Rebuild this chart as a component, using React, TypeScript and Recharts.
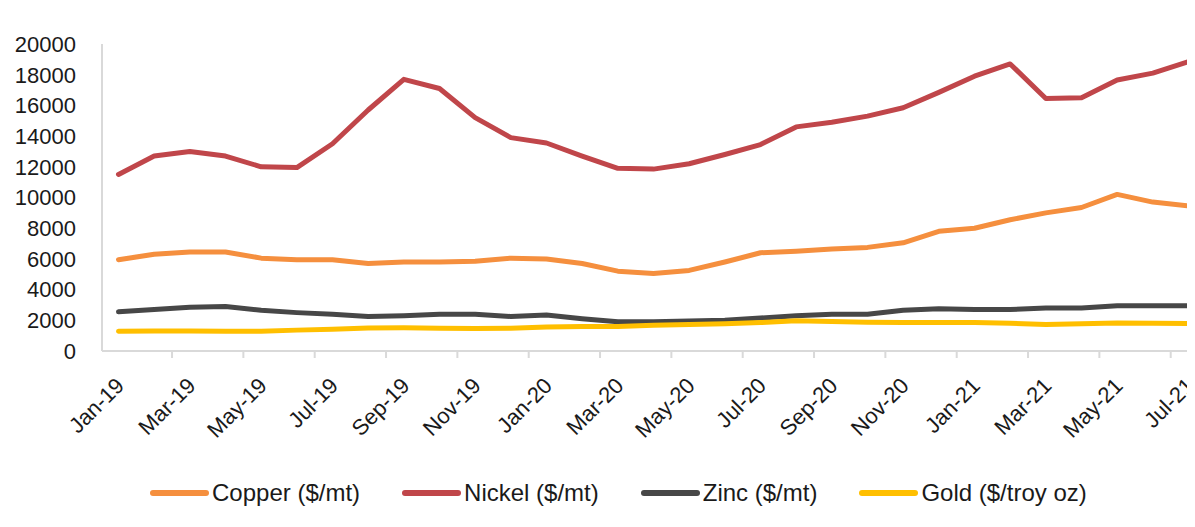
import { LineChart, Line, XAxis, YAxis, Legend } from 'recharts';

const months = [
  'Jan-19', 'Feb-19', 'Mar-19', 'Apr-19', 'May-19', 'Jun-19', 'Jul-19', 'Aug-19', 'Sep-19', 'Oct-19', 'Nov-19', 'Dec-19',
  'Jan-20', 'Feb-20', 'Mar-20', 'Apr-20', 'May-20', 'Jun-20', 'Jul-20', 'Aug-20', 'Sep-20', 'Oct-20', 'Nov-20', 'Dec-20',
  'Jan-21', 'Feb-21', 'Mar-21', 'Apr-21', 'May-21', 'Jun-21', 'Jul-21',
];

const copper = [5950, 6300, 6450, 6450, 6050, 5950, 5950, 5700, 5800, 5800, 5850, 6050, 6000, 5700, 5200, 5050, 5250, 5800, 6400, 6500, 6650, 6750, 7050, 7800, 8000, 8550, 9000, 9350, 10200, 9700, 9450];
const nickel = [11500, 12700, 13000, 12700, 12000, 11950, 13500, 15700, 17700, 17100, 15200, 13900, 13550, 12700, 11900, 11850, 12200, 12800, 13450, 14600, 14900, 15300, 15850, 16850, 17900, 18700, 16450, 16500, 17650, 18100, 18850];
const zinc = [2550, 2700, 2850, 2900, 2650, 2500, 2400, 2250, 2300, 2400, 2400, 2250, 2350, 2100, 1900, 1900, 1950, 2000, 2150, 2300, 2400, 2400, 2650, 2750, 2700, 2700, 2800, 2800, 2950, 2950, 2950];
const gold = [1290, 1300, 1300, 1280, 1285, 1360, 1410, 1500, 1510, 1490, 1470, 1480, 1560, 1600, 1590, 1680, 1720, 1770, 1850, 1970, 1920, 1880, 1860, 1860, 1860, 1810, 1720, 1770, 1820, 1800, 1790];

const yTicks = [0, 2000, 4000, 6000, 8000, 10000, 12000, 14000, 16000, 18000, 20000];

const series = [
  { key: 'copper', name: 'Copper ($/mt)', color: '#F58F3E' },
  { key: 'nickel', name: 'Nickel ($/mt)', color: '#C0464A' },
  { key: 'zinc', name: 'Zinc ($/mt)', color: '#474747' },
  { key: 'gold', name: 'Gold ($/troy oz)', color: '#FFBF00' },
];

const data = months.map((m, i) => ({
  month: m,
  copper: copper[i],
  nickel: nickel[i],
  zinc: zinc[i],
  gold: gold[i],
}));

const FONT = '"Liberation Sans", Arial, sans-serif';
const AXIS = '#d9d9d9';
const HALF_BAND = 17.8;

function MonthTick(props: any) {
  const { x, y, payload, index } = props;
  return (
    <g>
      {index > 0 && (
        <line x1={x - HALF_BAND} x2={x - HALF_BAND} y1={y} y2={y + 7} stroke={AXIS} strokeWidth={2} />
      )}
      <text
        x={x + 7}
        y={y + 36}
        textAnchor="end"
        fontSize={22}
        fontFamily={FONT}
        fill="#1a1a1a"
        transform={`rotate(-45, ${x + 7}, ${y + 36})`}
      >
        {payload.value}
      </text>
    </g>
  );
}

function LegendBox() {
  return (
    <div style={{ display: 'flex', alignItems: 'center', height: 40, marginLeft: 142, fontFamily: FONT, fontSize: 24, color: '#1a1a1a' }}>
      {series.map((s) => (
        <div key={s.key} style={{ display: 'flex', alignItems: 'center', marginRight: 42 }}>
          <div style={{ width: 59, height: 6, borderRadius: 3, background: s.color, marginRight: 3 }} />
          <span>{s.name}</span>
        </div>
      ))}
    </div>
  );
}

export default function App() {
  return (
    <div style={{ width: 1187, height: 519, overflow: 'hidden' }}>
      <LineChart width={1220} height={519} data={data} margin={{ top: 36, right: 21, bottom: 14, left: 0 }}>
        <XAxis
          dataKey="month"
          interval={1}
          tickLine={false}
          tickSize={0}
          tickMargin={0}
          height={122}
          padding={{ left: 16.5, right: 18.5 }}
          axisLine={{ stroke: AXIS, strokeWidth: 2 }}
          tick={<MonthTick />}
        />
        <YAxis
          domain={[0, 20000]}
          ticks={yTicks}
          interval={0}
          width={94}
          tickLine={false}
          tickSize={0}
          tickMargin={26}
          axisLine={{ stroke: AXIS, strokeWidth: 2 }}
          tick={{ fontSize: 22, fontFamily: FONT, fill: '#1a1a1a' }}
        />
        <Legend verticalAlign="bottom" align="left" content={<LegendBox />} />
        {series.map((s) => (
          <Line
            key={s.key}
            type="linear"
            dataKey={s.key}
            name={s.name}
            stroke={s.color}
            strokeWidth={5}
            strokeLinejoin="round"
            strokeLinecap="round"
            dot={false}
            isAnimationActive={false}
          />
        ))}
      </LineChart>
    </div>
  );
}
